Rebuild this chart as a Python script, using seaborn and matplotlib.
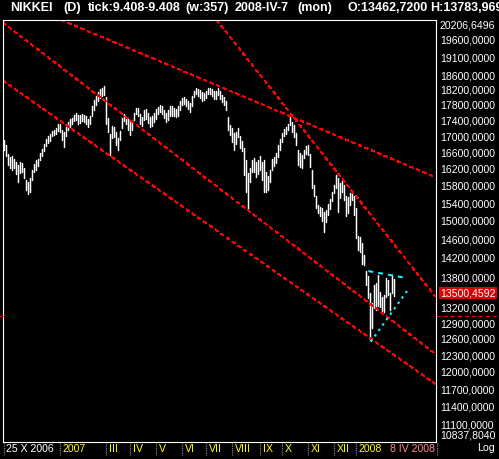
import numpy as np
import pandas as pd
import matplotlib
matplotlib.use("Agg")
import matplotlib.pyplot as plt
from matplotlib.lines import Line2D
from matplotlib.ticker import NullLocator
from matplotlib.transforms import blended_transform_factory
import seaborn as sns

# ---------------- data ----------------
# daily high / low of the index (one bar per entry)
bar_high = [
    16926, 16801, 16580, 16506, 16530, 16458, 16385, 16312, 16385, 16361,
    16240, 15955, 15908, 16002, 16193, 16337, 16433, 16457, 16604, 16703,
    16827, 16951, 17027, 17077, 17152, 17178, 17228, 17331, 17331, 17178,
    17127, 17254, 17382, 17459, 17485, 17563, 17615, 17563, 17563, 17589,
    17563, 17537, 17459, 17537, 17798, 17956, 18063, 18170, 18250, 18277,
    18331, 18036, 17485, 17077, 17280, 17254, 17127, 16977, 17152, 17485,
    17589, 17511, 17485, 17433, 17433, 17615, 17745, 17745, 17589, 17511,
    17692, 17719, 17615, 17511, 17537, 17615, 17719, 17772, 17824, 17798,
    17692, 17615, 17692, 17798, 17798, 17745, 17719, 17798, 17930, 18009,
    18036, 17983, 17930, 17877, 18063, 18196, 18277, 18250, 18223, 18170,
    18143, 18196, 18277, 18277, 18250, 18196, 18196, 18277, 18196, 18089,
    18036, 17930, 17511, 17305, 17228, 17102, 17127, 17228, 17027, 16901,
    16728, 16433, 16121, 16240, 16433, 16482, 16385, 16433, 16530, 16385,
    16433, 16145, 16050, 16193, 16458, 16506, 16604, 16802, 16951, 17102,
    17203, 17254, 17331, 17511, 17382, 17305, 17102, 16678, 16604, 16555,
    16678, 16777, 16802, 16580, 16193, 15837, 15583, 15378, 15332, 15309,
    15219, 15264, 15399, 15514, 15675, 15837, 16074, 16002, 15884, 15932,
    15837, 15583, 15560, 15651, 15675, 15583, 15309, 14690, 14668, 14538,
    14282, 13949, 13847, 13503, 13305, 13663, 13704, 13868, 13523, 13424,
    13464, 13806, 13765, 13503, 13868, 13783.969,
]
bar_low = [
    16678, 16530, 16312, 16240, 16193, 16240, 16097, 15908, 16121, 16145,
    16002, 15722, 15629, 15675, 15955, 16145, 16193, 16288, 16433, 16530,
    16653, 16777, 16852, 16901, 17027, 17052, 17077, 17152, 17127, 16926,
    16752, 17027, 17178, 17254, 17331, 17407, 17433, 17331, 17356, 17407,
    17382, 17331, 17254, 17331, 17537, 17692, 17824, 17930, 18009, 18063,
    18089, 17331, 17127, 16555, 16977, 17002, 16802, 16678, 16926, 17228,
    17407, 17331, 17178, 17052, 17178, 17433, 17589, 17537, 17331, 17280,
    17433, 17459, 17356, 17254, 17280, 17382, 17459, 17589, 17640, 17589,
    17485, 17382, 17433, 17537, 17537, 17537, 17511, 17537, 17692, 17824,
    17851, 17798, 17719, 17640, 17798, 18036, 18116, 18063, 18009, 17930,
    17956, 18009, 18116, 18116, 18063, 17983, 17983, 18089, 17983, 17904,
    17824, 17692, 17178, 17052, 16876, 16678, 16827, 17002, 16728, 16653,
    16074, 15675, 15264, 15908, 16145, 16145, 16026, 16097, 16193, 15955,
    15675, 15675, 15722, 15908, 16193, 16288, 16361, 16506, 16678, 16876,
    17027, 17077, 17178, 17305, 17127, 17002, 16802, 16312, 16264, 16240,
    16482, 16580, 16555, 16264, 15768, 15582, 15309, 15196, 15130, 15018,
    14776, 14996, 15152, 15287, 15468, 15652, 15768, 15219, 15537, 15675,
    15491, 15130, 15196, 15378, 15491, 15152, 14646, 14389, 14346, 14094,
    14074, 13663, 13405, 12598, 12824, 13208, 13169, 13247, 13228, 13150,
    13130, 13424, 13464, 13169, 13503, 13440,
]
last_close = 13500.4592

# trend lines: (bar position, price) at both ends
channel_upper_x, channel_upper_p = [-0.5, 215.5], [20126, 12350]
channel_lower_x, channel_lower_p = [-0.5, 215.5], [18475, 11813]
resistance_x, resistance_p = [28.75, 215.5], [20207, 16026]
steep_x, steep_p = [106.35, 215.5], [20207, 13444]
triangle_top_x, triangle_top_p = [182.15, 200.5], [13949, 13812]
triangle_bot_x, triangle_bot_p = [183.35, 202.5], [12566, 13598]
level_price = 13052

# price scale
y_min, y_max = 10837.8040, 20206.6496
price_ticks = [20206.6496, 19600, 19100, 18600, 18200, 17800, 17400, 17000,
               16600, 16200, 15800, 15400, 15000, 14600, 14200, 13800, 13200,
               12900, 12600, 12300, 12000, 11700, 11400, 11100, 10837.8040]

# time scale: first bar of each period and its label
period_start = [0, 28, 51, 63, 76, 89, 101, 114, 128, 139, 152, 165, 176]
period_label = ["25 X 2006", "2007", "III", "IV", "V", "VI", "VII", "VIII",
                "IX", "X", "XI", "XII", "2008"]
cursor_label = "8 IV 2008"

header = [("NIKKEI", 10), ("(D)", 63), ("tick:9.408-9.408", 88),
          ("(w:357)", 185), ("2008-IV-7", 235), ("(mon)", 297),
          ("O:13462,7200", 347), ("H:13783,969", 430)]

# ---------------- style ----------------
sns.set_theme(style="dark")
plt.rcParams["font.family"] = ["Liberation Sans", "DejaVu Sans"]

W, H = 499, 459
fig = plt.figure(figsize=(W / 100, H / 100), dpi=100, facecolor="black")
ax = fig.add_axes([3 / W, 1 - 442 / H, 433 / W, 422 / H])
ax.set_facecolor("black")
ax.set_yscale("log")
ax.set_ylim(y_min, y_max)
ax.set_xlim(-0.5, 216)
ax.set_xticks([])
ax.set_yticks([])
ax.yaxis.set_minor_locator(NullLocator())
ax.grid(False)
for s in ax.spines.values():
    s.set_visible(True)
    s.set_color("white")
    s.set_linewidth(0.8)

# ---------------- price bars ----------------
n = len(bar_high)
bars = pd.DataFrame({
    "bar": np.repeat(np.arange(n), 2),
    "price": np.column_stack([bar_high, bar_low]).ravel(),
})
sns.lineplot(data=bars, x="bar", y="price", units="bar", estimator=None,
             color="white", linewidth=1.05, ax=ax, legend=False)
ax.set_xlim(-0.5, 216)
ax.set_ylim(y_min, y_max)
ax.set_xlabel("")
ax.set_ylabel("")

# ---------------- trend lines ----------------
red = "#ff0000"
for xs, ps in [(channel_upper_x, channel_upper_p),
               (channel_lower_x, channel_lower_p),
               (resistance_x, resistance_p),
               (steep_x, steep_p)]:
    ax.plot(xs, ps, color=red, lw=0.72, linestyle=(0, (3, 4)),
            antialiased=False)

cyan = "#20e8ff"
ax.plot(triangle_top_x, triangle_top_p, color=cyan, lw=1.5,
        linestyle=(0, (2.4, 2.4)))
ax.plot(triangle_bot_x, triangle_bot_p, color=cyan, lw=1.5,
        linestyle=(0, (1.2, 2.0)))

# horizontal level marker in the margins
lvl_tr = blended_transform_factory(fig.transFigure, ax.transData)
for x0, x1 in [(0, 3 / W), (437 / W, 1)]:
    fig.add_artist(Line2D([x0, x1], [level_price, level_price],
                          transform=lvl_tr, color=red, lw=0.72,
                          linestyle=(0, (3, 4)), antialiased=False))

# ---------------- price labels ----------------
ytr = ax.get_yaxis_transform()
for i, v in enumerate(price_ticks):
    txt = f"{v:.4f}".replace(".", ",")
    dy = 0
    if i == 0:
        dy = -5
    elif i == len(price_ticks) - 1:
        dy = 6
    ax.annotate(txt, xy=(1, v), xycoords=ytr, xytext=(4, dy),
                textcoords="offset pixels", ha="left", va="center",
                color="white", fontsize=7.6, annotation_clip=False)

ax.annotate(f"{last_close:.4f}".replace(".", ","), xy=(1, last_close),
            xycoords=ytr, xytext=(4, 0), textcoords="offset pixels",
            ha="left", va="center", color="white", fontsize=7.6,
            annotation_clip=False,
            bbox=dict(boxstyle="square,pad=0.12", fc="#dd0000", ec="none"))

fig.text(495 / W, 1 - 448 / H, "Log", color="white", fontsize=7.6,
         ha="right", va="center")

# ---------------- time labels ----------------
xtr = blended_transform_factory(ax.transData, fig.transFigure)
sep_y = [1 - 443 / H, 1 - 455 / H]
label_y = 1 - 448.5 / H
for k, (pos, lab) in enumerate(zip(period_start, period_label)):
    fig.add_artist(Line2D([pos, pos], sep_y, transform=xtr, color="#909090",
                          lw=0.8, linestyle=(0, (1, 1))))
    ax.annotate(lab, xy=(pos, label_y), xycoords=xtr, xytext=(2.5, 0),
                textcoords="offset pixels", ha="left", va="center",
                color="white" if k == 0 else "#ffff00", fontsize=7.6,
                annotation_clip=False)
fig.add_artist(Line2D([437 / W, 437 / W], sep_y, transform=fig.transFigure,
                      color="#909090", lw=0.8, linestyle=(0, (1, 1))))
fig.text(435 / W, label_y, cursor_label, color="#ff8a8a", fontsize=7.6,
         ha="right", va="center")

# ---------------- header ----------------
for txt, x in header:
    fig.text(x / W, 1 - 8 / H, txt, color="white", fontsize=9,
             fontweight="bold", ha="left", va="center")

fig.savefig("out.png", dpi=100, facecolor="black")
